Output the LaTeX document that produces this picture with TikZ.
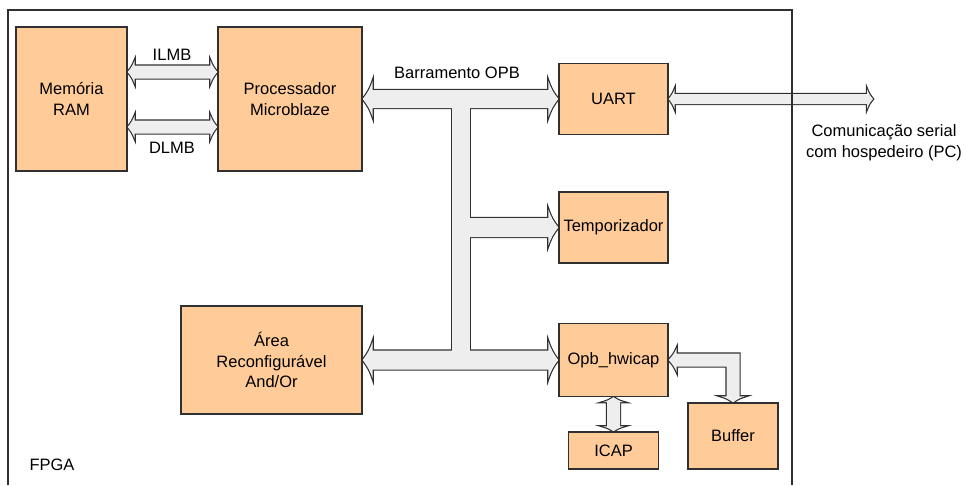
\documentclass[tikz,border=0pt]{standalone}
\usepackage{fontspec}
\setmainfont{Liberation Sans}
\usepackage{tikz}
\usetikzlibrary{calc}
\definecolor{boxfill}{HTML}{FFCC99}
\definecolor{busgray}{HTML}{EEEEEE}
\definecolor{edgegray}{HTML}{303030}
\pgfdeclarelayer{busback}
\pgfdeclarelayer{busfront}
\pgfsetlayers{busback,busfront,main}

\tikzset{
  block/.style={draw=edgegray, fill=boxfill, line width=1.2pt, align=center, inner sep=2pt},
  busline/.style={draw=edgegray, line width=2.4pt},
  busfill/.style={fill=busgray},
  tag/.style={align=center, inner sep=1pt},
  headedge/.style={bend right=10}
}

% outline behind, fill in front, so joined buses merge
\newcommand{\buspath}[1]{%
  \begin{pgfonlayer}{busback}\path[busline] #1;\end{pgfonlayer}%
  \begin{pgfonlayer}{busfront}\path[busfill] #1;\end{pgfonlayer}}
% #1 from, #2 to, #3 half shaft, #4 half head, #5 head length
\newcommand{\busarrow}[5]{%
  \buspath{(#1) to[headedge] ($(#1)!#5!(#2)!#4!90:(#2)$) -- ($(#1)!#5!(#2)!#3!90:(#2)$)
    -- ($(#2)!#5!(#1)!#3!-90:(#1)$) -- ($(#2)!#5!(#1)!#4!-90:(#1)$) to[headedge] (#2)
    to[headedge] ($(#2)!#5!(#1)!#4!90:(#1)$) -- ($(#2)!#5!(#1)!#3!90:(#1)$)
    -- ($(#1)!#5!(#2)!#3!-90:(#2)$) -- ($(#1)!#5!(#2)!#4!-90:(#2)$) to[headedge] (#1) -- cycle}}
\newcommand{\busbranch}[5]{%
  \buspath{($(#1)!#3!90:(#2)$)
    -- ($(#2)!#5!(#1)!#3!-90:(#1)$) -- ($(#2)!#5!(#1)!#4!-90:(#1)$) to[headedge] (#2)
    to[headedge] ($(#2)!#5!(#1)!#4!90:(#1)$) -- ($(#2)!#5!(#1)!#3!90:(#1)$)
    -- ($(#1)!#3!-90:(#2)$) -- cycle}}

\begin{document}
\fontsize{16.5}{20.5}\selectfont
\begin{tikzpicture}[x=1pt, y=-1pt]
  \useasboundingbox (0,0) rectangle (966,485);

  % blocks
  \node[block, minimum width=111pt, minimum height=144pt] (ram) at (71.5,99) {Memória\\RAM};
  \node[block, minimum width=144pt, minimum height=144pt] (cpu) at (290,99) {Processador\\Microblaze};
  \node[block, minimum width=109pt, minimum height=71pt] (uart) at (613.5,99) {UART};
  \node[block, minimum width=109pt, minimum height=71pt] (timer) at (613.5,227.5) {Temporizador};
  \node[block, minimum width=181pt, minimum height=108pt] (area) at (271.5,360) {Área\\Reconfigurável\\And/Or};
  \node[block, minimum width=109pt, minimum height=73pt] (hwicap) at (613.5,360) {Opb\_hwicap};
  \node[block, minimum width=90pt, minimum height=37pt] (icap) at (613.5,450.5) {ICAP};
  \node[block, minimum width=90pt, minimum height=66pt] (buffer) at (733,436) {Buffer};

  % labels
  \node[tag] (ilmb) at (172,55) {ILMB};
  \node[tag] (dlmb) at (172,148) {DLMB};
  \node[tag] (opb) at (457,73) {Barramento OPB};
  \node[tag] (host) at (884,142.5) {Comunicação serial\\com hospedeiro (PC)};
  \node[tag] (fpga) at (52,465) {FPGA};

  \coordinate (ilmb-l) at ([yshift=27pt]ram.east);
  \coordinate (ilmb-r) at ([yshift=27pt]cpu.west);
  \coordinate (dlmb-l) at ([yshift=-28pt]ram.east);
  \coordinate (dlmb-r) at ([yshift=-28pt]cpu.west);
  \coordinate (stem-t) at (461,99);
  \coordinate (stem-b) at (461,360);
  \coordinate (tap) at (stem-t |- timer.west);
  \coordinate (serial) at (873,99);
  \coordinate (elb) at (buffer.north |- hwicap.east);

  % buses
  \busarrow{ilmb-l}{ilmb-r}{6.5pt}{11.5pt}{7pt}
  \busarrow{dlmb-l}{dlmb-r}{6.5pt}{11.5pt}{7pt}
  \buspath{($(stem-t)+(-9pt,0)$) rectangle ($(stem-b)+(9pt,0)$)}
  \busarrow{cpu.east}{uart.west}{9pt}{18pt}{10pt}
  \busbranch{tap}{timer.west}{9.5pt}{18pt}{10pt}
  \busarrow{area.east}{hwicap.west}{9.5pt}{18.5pt}{10pt}
  \busarrow{hwicap.south}{icap.north}{6.5pt}{10.5pt}{5pt}
  \busarrow{uart.east}{serial}{5pt}{10pt}{6pt}
  \buspath{(hwicap.east) to[headedge] ++(8pt,12pt) -- ++(0,-5.5pt) -- ($(elb)+(6.5pt,6.5pt)$)
    -- ($(buffer.north)+(6.5pt,6pt)$) -- ++(5.5pt,0) to[headedge] (buffer.north) to[headedge] ++(-12pt,6pt)
    -- ++(5.5pt,0) -- ($(elb)+(-6.5pt,-6.5pt)$) -- ($(hwicap.east)+(8pt,-6.5pt)$)
    -- ++(0,-5.5pt) to[headedge] (hwicap.east) -- cycle}

  % fpga frame
  \draw[edgegray, line width=1.2pt] (8,485) |- (792,10) -- (792,485);
\end{tikzpicture}
\end{document}
